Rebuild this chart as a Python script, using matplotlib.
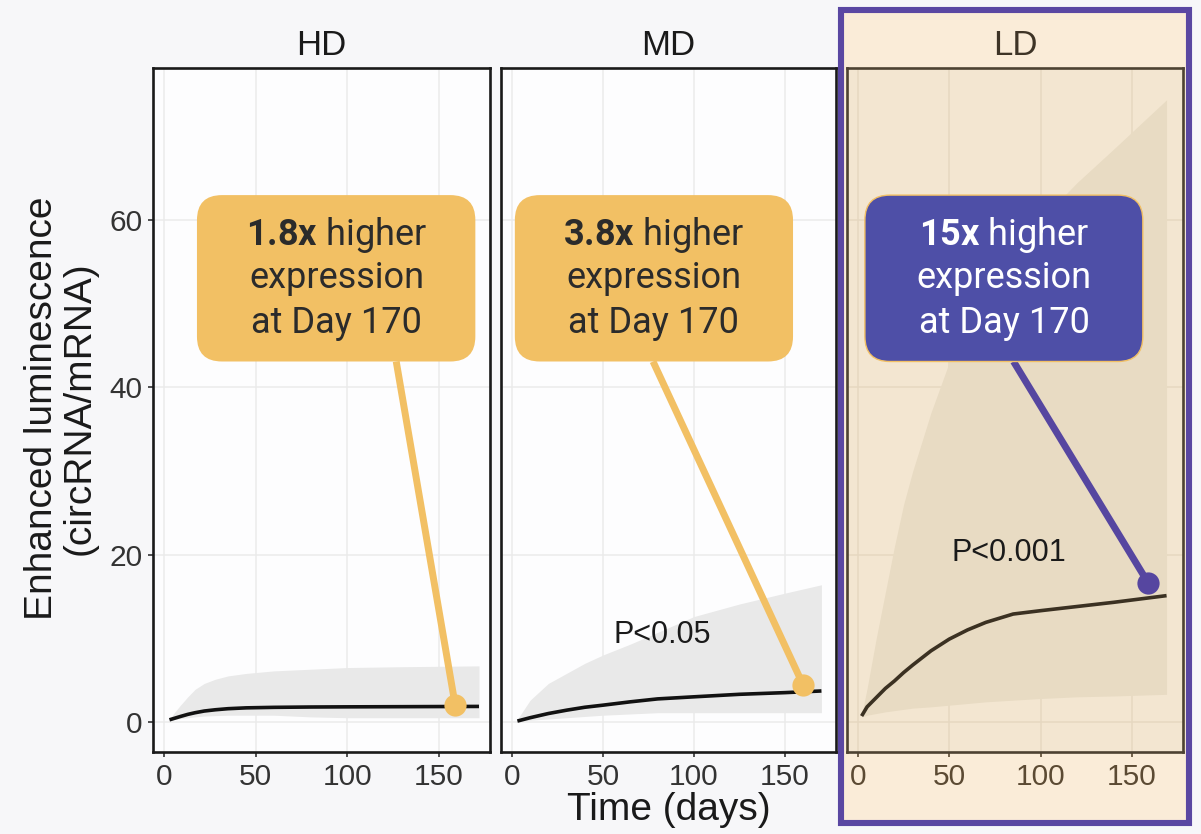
import matplotlib.pyplot as plt
from matplotlib.patches import FancyBboxPatch, Rectangle

plt.rcParams['font.family'] = ['Liberation Sans', 'DejaVu Sans']
plt.rcParams['mathtext.fontset'] = 'custom'
plt.rcParams['mathtext.rm'] = 'Roboto'
plt.rcParams['mathtext.bf'] = 'Roboto:bold'

# ---- data ----
panels = ['HD', 'MD', 'LD']

hd_days = [3, 6, 9, 13, 17, 22, 28, 35, 45, 60, 80, 100, 130, 172]
hd_fit = [0.25, 0.45, 0.65, 0.9, 1.1, 1.3, 1.45, 1.58, 1.68, 1.74, 1.78, 1.8, 1.82, 1.85]
hd_upper = [0.3, 1.2, 2.0, 3.0, 3.9, 4.6, 5.1, 5.5, 5.8, 6.1, 6.3, 6.5, 6.6, 6.7]
hd_lower = [0.2, 0.3, 0.4, 0.5, 0.6, 0.7, 0.75, 0.8, 0.8, 0.8, 0.6, 0.5, 0.5, 0.5]

md_days = [3, 10, 20, 30, 40, 50, 65, 80, 100, 125, 150, 170]
md_fit = [0.1, 0.5, 1.0, 1.4, 1.75, 2.0, 2.4, 2.75, 3.0, 3.3, 3.5, 3.7]
md_upper = [0.3, 2.6, 4.6, 5.8, 7.0, 8.0, 9.3, 10.7, 12.6, 14.1, 15.4, 16.4]
md_lower = [0.0, 0.2, 0.35, 0.5, 0.65, 0.8, 0.95, 1.1, 1.1, 1.1, 1.1, 1.1]

ld_days = [2, 5, 10, 15, 20, 25, 30, 40, 50, 60, 70, 85, 100, 120, 140, 169]
ld_fit = [0.7, 1.8, 2.9, 4.0, 4.9, 5.9, 6.8, 8.5, 9.9, 11.0, 11.9, 12.9, 13.3, 13.8, 14.3, 15.1]
ld_upper = [0.8, 4.0, 10.0, 15.5, 21.0, 26.0, 30.0, 37.0, 43.0, 47.5, 51.0, 56.0, 60.0, 64.5, 68.5, 74.4]
ld_lower = [0.6, 0.8, 1.0, 1.2, 1.35, 1.5, 1.65, 1.8, 2.0, 2.2, 2.4, 2.6, 2.8, 3.0, 3.1, 3.3]

fold_change = ['1.8x', '3.8x', '15x']
p_values = ['', 'P<0.05', 'P<0.001']
dot_day = [159, 160, 159]
dot_value = [2.0, 4.4, 16.6]

series = [(hd_days, hd_fit, hd_upper, hd_lower),
          (md_days, md_fit, md_upper, md_lower),
          (ld_days, ld_fit, ld_upper, ld_lower)]

# ---- layout / style ----
W, H = 1201, 834
fig = plt.figure(figsize=(W / 100, H / 100), dpi=100)
fig.patch.set_facecolor('#f7f7f9')

# highlight frame round the LD panel
frame = Rectangle((841 / W, 1 - 823 / H), (1189 - 841) / W, (823 - 10) / H,
                  transform=fig.transFigure, facecolor='#faecd8',
                  edgecolor='#5a47a2', linewidth=4.4, zorder=-1)
fig.add_artist(frame)

lefts = [153, 501, 847]
widths = [337, 335, 336]
xlim = (-6, 178)
ylim = (-3.6, 78.2)

orange = '#f2c064'
purple_line = '#5646a0'
purple_box = '#4e4fa7'

box_x = [(18.0, 170.0), (1.6, 154.4), (3.8, 156.0)]
box_y = (43.1, 63.0)
text_x = [94.2, 78.0, 80.0]
line_y = [57.06, 51.9, 46.5]
leader_x = [126.8, 77.5, 85.2]

for i, name in enumerate(panels):
    ax = fig.add_axes([lefts[i] / W, (H - 752) / H, widths[i] / W, (752 - 68) / H])
    days, fit, upper, lower = series[i]
    ld = (name == 'LD')

    face = '#f3e6d1' if ld else '#fdfdfe'
    gridc = '#e6d8c1' if ld else '#ebebeb'
    spinec = '#4d4232' if ld else '#1a1a1a'
    textc = '#5b4a33' if ld else '#333333'
    titlec = '#3e3426' if ld else '#1a1a1a'
    bandc = '#e8dbc3' if ld else '#e9e9e9'
    linec = '#3b3122' if ld else '#111111'

    ax.set_facecolor(face)
    ax.fill_between(days, lower, upper, color=bandc, lw=0, zorder=1)
    ax.plot(days, fit, color=linec, lw=2.6, zorder=2, solid_capstyle='butt')

    ax.set_xlim(*xlim)
    ax.set_ylim(*ylim)
    ax.set_xticks([0, 50, 100, 150])
    ax.set_yticks([0, 20, 40, 60])
    ax.grid(True, color=gridc, lw=1.1)
    ax.set_axisbelow(True)
    for sp in ax.spines.values():
        sp.set_linewidth(1.9)
        sp.set_color(spinec)
    ax.tick_params(axis='both', labelsize=21.5, labelcolor=textc, color=textc,
                   length=3.6, width=1.2, pad=4)
    if i > 0:
        ax.tick_params(axis='y', left=False, labelleft=False)
    ax.set_title(name, fontsize=25, color=titlec, pad=9.4)

    if p_values[i]:
        ax.text(82.4, [0, 10.4, 20.2][i], p_values[i], fontsize=22,
                ha='center', va='center', color='#1a1a1a', zorder=4)

    # callout
    lc = purple_line if ld else orange
    ax.plot([leader_x[i], dot_day[i]], [box_y[0], dot_value[i]], color=lc,
            lw=5, solid_capstyle='butt', zorder=4, clip_on=False)
    ax.plot(dot_day[i], dot_value[i], 'o', ms=16, color=lc, mec='none',
            zorder=4, clip_on=False)

    xu = (xlim[1] - xlim[0]) / widths[i]
    yu = (ylim[1] - ylim[0]) / (752 - 68)
    x0, x1 = box_x[i]
    box = FancyBboxPatch((x0, box_y[0]), x1 - x0, box_y[1] - box_y[0],
                         boxstyle='round,pad=0,rounding_size=%f' % (25 * xu),
                         mutation_aspect=yu / xu,
                         facecolor=purple_box if ld else orange,
                         edgecolor=orange if ld else 'none', lw=1.0,
                         zorder=5, clip_on=False)
    ax.add_patch(box)
    tc = 'white' if ld else '#2b2b2b'
    lines = [r'$\mathbf{%s}$ higher' % fold_change[i], 'expression', 'at Day 170']
    for t, yy in zip(lines, line_y):
        ax.text(text_x[i], yy, t, fontsize=26, family='Roboto', color=tc,
                ha='center', va='baseline', zorder=6, clip_on=False)

fig.text(61 / W, 1 - 408 / H, 'Enhanced luminescence\n(circRNA/mRNA)',
         rotation=90, ha='center', va='center', multialignment='center',
         fontsize=28, linespacing=1.05, color='#1a1a1a')
fig.text(669 / W, 1 - 810 / H, 'Time (days)', ha='center', va='center',
         fontsize=28, color='#1a1a1a')

plt.savefig('out.png', dpi=100, facecolor=fig.get_facecolor())
